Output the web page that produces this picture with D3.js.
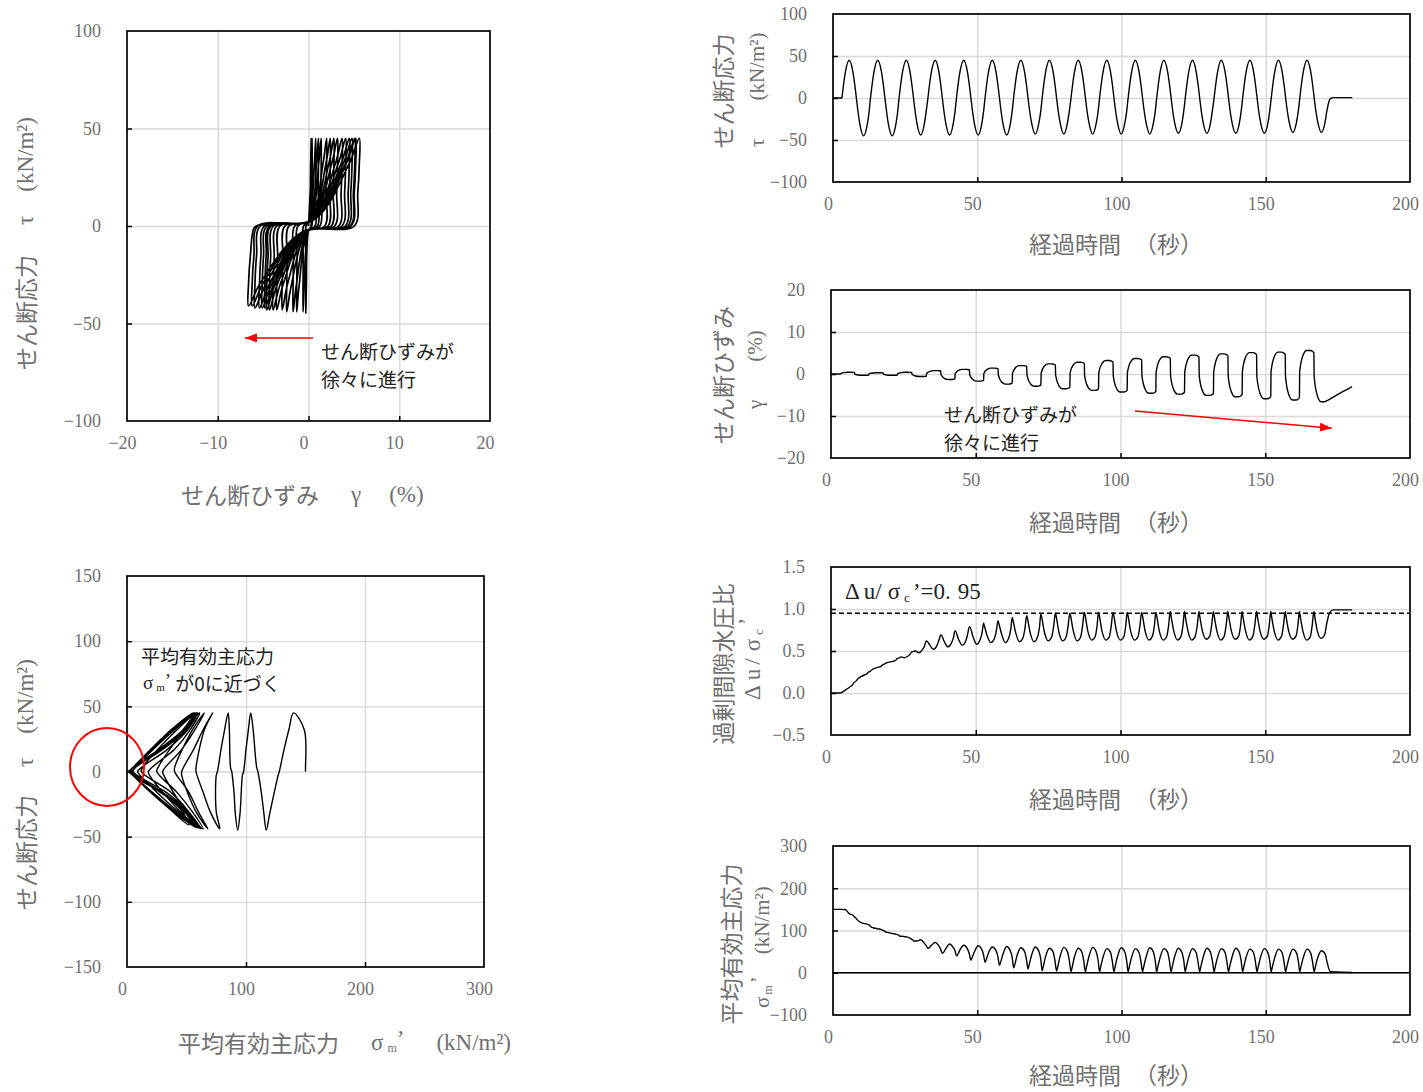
<!DOCTYPE html>
<html lang="ja"><head><meta charset="utf-8">
<script src="https://cdn.jsdelivr.net/npm/d3@7/dist/d3.min.js"></script>
<style>html,body{margin:0;padding:0;background:#fff;}svg{display:block}</style>
</head><body>
<svg id="chart" width="1423" height="1092"></svg>
<script>
// ---------------- DATA ----------------
// start time (s) of each loading cycle (tau up-crossing) and sample offsets inside a cycle
const cycleStart = [3.1, 13.0, 22.9, 32.9, 42.8, 52.7, 62.6, 72.5, 82.5, 92.4, 102.3, 112.2, 122.1, 132.1, 142.0, 151.9, 161.8];
const phaseOffset = [0, 0.1, 1.25, 2.5, 3.75, 4.4, 5, 5.1, 6.25, 7.5, 8.75, 9.4];

// shear stress tau (kN/m2) per cycle at the offsets above
const tauCycles = [
  [0,3,32,45,32,17,0,-3,-32,-45,-32,-17],
  [0,3,32,45,32,17,0,-3,-32,-45,-32,-17],
  [0,3,32,45,32,17,0,-3,-31,-44,-31,-16],
  [0,3,32,45,32,17,0,-3,-31,-44,-31,-16],
  [0,3,32,45,32,17,0,-3,-31,-44,-31,-16],
  [0,3,32,45,32,17,0,-3,-31,-44,-31,-16],
  [0,3,32,45,32,17,0,-3,-30,-43,-30,-16],
  [0,3,32,45,32,17,0,-3,-30,-43,-30,-16],
  [0,3,32,45,32,17,0,-3,-30,-43,-30,-16],
  [0,3,32,45,32,17,0,-3,-30,-43,-30,-16],
  [0,3,32,45,32,17,0,-3,-30,-43,-30,-16],
  [0,3,32,45,32,17,0,-3,-30,-42,-30,-15],
  [0,3,32,45,32,17,0,-3,-30,-42,-30,-15],
  [0,3,32,45,32,17,0,-3,-30,-42,-30,-15],
  [0,3,32,45,32,17,0,-3,-30,-42,-30,-15],
  [0,3,32,45,32,17,0,-3,-29,-41,-29,-15],
  [0,3,32,45,32,17,0,-3,-29,-41,-29,-15]
];
// shear strain gamma (%)
const gammaCycles = [
  [0,0.04,0.32,0.4,0.4,0.39,0.36,-0.03,-0.24,-0.3,-0.3,-0.29],
  [-0.27,0.03,0.24,0.3,0.3,0.29,0.27,-0.03,-0.24,-0.3,-0.3,-0.29],
  [-0.27,0.04,0.32,0.4,0.4,0.39,0.36,-0.06,-0.48,-0.6,-0.6,-0.58],
  [-0.54,0.08,0.64,0.8,0.8,0.78,0.72,-0.13,-1.04,-1.3,-1.3,-1.26],
  [-1.17,0.11,0.88,1.1,1.1,1.07,0.99,-0.17,-1.36,-1.7,-1.7,-1.65],
  [-1.53,0.14,1.12,1.4,1.4,1.36,1.26,-0.24,-1.92,-2.4,-2.4,-2.33],
  [-2.16,0.2,1.6,2.0,2.0,1.94,1.8,-0.29,-2.32,-2.9,-2.9,-2.81],
  [-2.61,0.24,1.92,2.4,2.4,2.33,2.16,-0.35,-2.8,-3.5,-3.5,-3.4],
  [-3.15,0.28,2.24,2.8,2.8,2.72,2.52,-0.39,-3.12,-3.9,-3.9,-3.78],
  [-3.51,0.32,2.56,3.2,3.2,3.1,2.88,-0.43,-3.44,-4.3,-4.3,-4.17],
  [-3.87,0.37,2.96,3.7,3.7,3.59,3.33,-0.46,-3.68,-4.6,-4.6,-4.46],
  [-4.14,0.41,3.28,4.1,4.1,3.98,3.69,-0.48,-3.84,-4.8,-4.8,-4.66],
  [-4.32,0.45,3.6,4.5,4.5,4.37,4.05,-0.51,-4.08,-5.1,-5.1,-4.95],
  [-4.59,0.48,3.84,4.8,4.8,4.66,4.32,-0.54,-4.32,-5.4,-5.4,-5.24],
  [-4.86,0.51,4.08,5.1,5.1,4.95,4.59,-0.59,-4.72,-5.9,-5.9,-5.72],
  [-5.31,0.52,4.16,5.2,5.2,5.04,4.68,-0.62,-4.96,-6.2,-6.2,-6.01],
  [-5.58,0.56,4.48,5.6,5.6,5.43,5.04,-0.66,-5.28,-6.6,-6.6,-6.4]
];
// mean effective principal stress sigma_m' (kN/m2)
const sigmaCycles = [
  [150,150,149,140,136,132,128,127,120,117,115,113],
  [110,109,106,104,102,100,98,97,95,93,91,90],
  [88,87,86,85,82,79,76,75,75,78,70,64],
  [58,58,65,72,64,56,46,46,58,68,60,52],
  [40,40,55,65,57,46,30,31,50,64,55,42],
  [25,26,48,61,53,40,18,19,45,62,52,37],
  [12,13,42,59,51,34,9,11,42,61,51,33],
  [5,7,40,58,50,30,4,6,40,60,50,30],
  [3,5,39,58,49,29,2,5,39,60,49,29],
  [2,5,38,57,49,28,2,5,39,59,49,28],
  [2,5,38,57,48,28,2,5,38,59,49,28],
  [2,5,38,57,49,28,2,5,39,58,48,28],
  [2,5,38,57,48,27,2,5,38,58,48,28],
  [2,5,38,57,49,28,2,5,38,58,48,27],
  [2,5,38,56,48,27,2,5,38,57,47,27],
  [2,5,37,56,48,27,2,5,37,56,47,27],
  [2,5,37,56,47,27,2,5,36,52,45,27]
];
// excess pore water pressure ratio du/sigma_c'
const ruCycles = [
  [0.00,0.00,0.02,0.05,0.08,0.10,0.13,0.13,0.17,0.20,0.22,0.23],
  [0.25,0.25,0.28,0.30,0.31,0.32,0.34,0.34,0.36,0.37,0.38,0.39],
  [0.41,0.41,0.43,0.42,0.44,0.46,0.49,0.49,0.50,0.48,0.52,0.56],
  [0.62,0.62,0.57,0.52,0.57,0.63,0.69,0.69,0.61,0.55,0.60,0.66],
  [0.74,0.74,0.64,0.57,0.62,0.70,0.79,0.79,0.67,0.58,0.64,0.72],
  [0.83,0.82,0.68,0.60,0.65,0.74,0.86,0.85,0.70,0.60,0.66,0.76],
  [0.90,0.89,0.71,0.61,0.66,0.77,0.92,0.91,0.71,0.61,0.67,0.78],
  [0.94,0.93,0.72,0.62,0.67,0.79,0.95,0.94,0.72,0.62,0.67,0.80],
  [0.95,0.94,0.73,0.62,0.67,0.80,0.96,0.95,0.73,0.63,0.67,0.80],
  [0.96,0.95,0.73,0.63,0.67,0.80,0.96,0.95,0.73,0.63,0.67,0.80],
  [0.96,0.95,0.73,0.63,0.67,0.80,0.96,0.95,0.73,0.63,0.68,0.80],
  [0.96,0.95,0.73,0.63,0.67,0.80,0.97,0.95,0.73,0.63,0.68,0.81],
  [0.97,0.95,0.73,0.63,0.68,0.80,0.97,0.95,0.73,0.64,0.68,0.81],
  [0.97,0.95,0.73,0.63,0.68,0.81,0.97,0.95,0.73,0.64,0.68,0.81],
  [0.97,0.95,0.73,0.63,0.68,0.81,0.97,0.95,0.73,0.64,0.68,0.81],
  [0.97,0.95,0.73,0.63,0.68,0.81,0.97,0.95,0.73,0.64,0.68,0.81],
  [0.97,0.95,0.73,0.63,0.67,0.80,0.97,0.95,0.73,0.65,0.70,0.82]
];
// before the first and after the last cycle
const leadTime = [0], leadTau = [0], leadGamma = [0], leadSigma = [150], leadRu = [0];
const tailTime  = [172.3, 173.5, 176, 180];
const tailTau   = [-1, 0.5, 0.5, 0.5];
const tailGamma = [-6.0, -5.5, -4.5, -3.0];
const tailSigma = [3, 2, 1.5, 0.5];
const tailRu    = [0.96, 0.99, 0.99, 0.99];
const ruThreshold = 0.95;

// axis ticks
const timeTicks   = [0, 50, 100, 150, 200];
const tauTicks    = [-100, -50, 0, 50, 100];
const gammaTicksT = [-20, -10, 0, 10, 20];
const ruTicks     = [-0.5, 0, 0.5, 1.0, 1.5];
const sigmaTicksT = [-100, 0, 100, 200, 300];
const gammaTicksA = [-20, -10, 0, 10, 20];
const tauTicksA   = [-100, -50, 0, 50, 100];
const sigmaTicksB = [0, 100, 200, 300];
const tauTicksB   = [-150, -100, -50, 0, 50, 100, 150];

// ---------------- assemble records ----------------
const rows = [];
leadTime.forEach((t,i)=>rows.push({t, tau:leadTau[i], gamma:leadGamma[i], sigma:leadSigma[i], ru:leadRu[i]}));
cycleStart.forEach((t0,k)=>phaseOffset.forEach((o,j)=>rows.push({
  t:t0+o, tau:tauCycles[k][j], gamma:gammaCycles[k][j], sigma:sigmaCycles[k][j], ru:ruCycles[k][j]})));
tailTime.forEach((t,i)=>rows.push({t, tau:tailTau[i], gamma:tailGamma[i], sigma:tailSigma[i], ru:tailRu[i]}));
const loopRows = rows.slice(1);

// ---------------- drawing ----------------
const SERIF = '"Liberation Serif","DejaVu Serif",serif';
const JP = '"Noto Sans CJK JP","Noto Sans CJK SC",sans-serif';
const GRAY = '#707070';
const INK = '#222';
const svg = d3.select('#chart');
svg.append('rect').attr('width',1423).attr('height',1092).attr('fill','#fff');

const defs = svg.append('defs');
defs.append('marker').attr('id','redArrow').attr('markerUnits','userSpaceOnUse')
  .attr('markerWidth',14).attr('markerHeight',10).attr('refX',12).attr('refY',4.5).attr('orient','auto')
  .append('path').attr('d','M0,0 L12,4.5 L0,9 Z').attr('fill','#ff0000');

function panel(o){
  const x = d3.scaleLinear().domain(o.xd).range([o.x0,o.x1]);
  const y = d3.scaleLinear().domain(o.yd).range([o.y1,o.y0]);
  const W = o.x1-o.x0, H = o.y1-o.y0;
  const inner = a => a.slice(1,-1);
  const g = svg.append('g');
  const styleGrid = s => { s.select('.domain').remove(); s.selectAll('line').attr('stroke','#d9d9d9').attr('stroke-width',1.4); };
  const styleTick = s => { s.select('.domain').remove(); s.selectAll('line').attr('stroke','#000').attr('stroke-width',1.5); };
  g.append('g').attr('transform',`translate(0,${o.y1})`)
    .call(d3.axisBottom(x).tickValues(inner(o.xt)).tickSize(-H).tickFormat('')).call(styleGrid);
  g.append('g').attr('transform',`translate(${o.x0},0)`)
    .call(d3.axisLeft(y).tickValues(inner(o.yt)).tickSize(-W).tickFormat('')).call(styleGrid);
  g.append('g').attr('transform',`translate(0,${o.y1})`)
    .call(d3.axisBottom(x).tickValues(inner(o.xt)).tickSize(-5).tickFormat('')).call(styleTick);
  g.append('g').attr('transform',`translate(${o.x0},0)`)
    .call(d3.axisLeft(y).tickValues(inner(o.yt)).tickSize(-5).tickFormat('')).call(styleTick);
  const styleLab = s => { s.select('.domain').remove(); s.selectAll('line').remove();
    s.attr('font-family',SERIF).attr('font-size',18); s.selectAll('text').attr('fill',GRAY); };
  g.append('g').attr('transform',`translate(-5,${o.y1})`)
    .call(d3.axisBottom(x).tickValues(o.xt).tickSize(0).tickPadding(15).tickFormat(o.xf||d3.format('d'))).call(styleLab);
  g.append('g').attr('transform',`translate(${o.x0-26},0)`)
    .call(d3.axisLeft(y).tickValues(o.yt).tickSize(0).tickPadding(0).tickFormat(o.yf||d3.format('d'))).call(styleLab);
  const plot = svg.append('g');
  const border = () => svg.append('rect').attr('x',o.x0).attr('y',o.y0).attr('width',W).attr('height',H)
    .attr('fill','none').attr('stroke','#000').attr('stroke-width',1.7);
  return {x,y,plot,border,o};
}

function addParts(t,parts){
  parts.forEach(p=>{
    const s = t.append('tspan').text(p.s).attr('font-family',p.jp?JP:SERIF);
    if(p.dx) s.attr('dx',p.dx);
    if(p.dy) s.attr('dy',p.dy);
    if(p.fs) s.attr('font-size',p.fs);
  });
  return t;
}
function htext(x,y,parts,fs,fill){
  const t = svg.append('text').attr('x',x).attr('y',y).attr('dominant-baseline','central')
    .attr('font-size',fs).attr('fill',fill||GRAY);
  return addParts(t,parts);
}
function vtext(x,y,parts,fs,anchor,fill){
  const t = svg.append('text').attr('transform',`translate(${x},${y}) rotate(-90)`)
    .attr('dominant-baseline','central').attr('text-anchor',anchor||'start')
    .attr('font-size',fs).attr('fill',fill||GRAY);
  return addParts(t,parts);
}

// ===== Panel A : tau vs gamma =====
const A = panel({x0:127,x1:490,y0:31,y1:421,xd:[-20,20],yd:[-100,100],xt:gammaTicksA,yt:tauTicksA});
A.plot.append('path').datum(loopRows)
  .attr('d',d3.line().x(d=>A.x(d.gamma)).y(d=>A.y(d.tau)).curve(d3.curveCatmullRom.alpha(0.5)))
  .attr('fill','none').attr('stroke','#000').attr('stroke-width',1.7).attr('stroke-linejoin','round');
A.border();
svg.append('line').attr('x1',A.x(0.5)).attr('x2',A.x(-7.0)).attr('y1',A.y(-57.4)).attr('y2',A.y(-57.4))
  .attr('stroke','#ff0000').attr('stroke-width',1.6).attr('marker-end','url(#redArrow)');
htext(321,350,[{s:'せん断ひずみが',jp:1}],19,INK);
htext(321,378,[{s:'徐々に進行',jp:1}],19,INK);
htext(181,494,[{s:'せん断ひずみ',jp:1},{s:'γ',dx:32},{s:'(%)',dx:28}],23);
vtext(25,370,[{s:'せん断応力',jp:1},{s:'τ',dx:30},{s:'(kN/m²)',dx:24}],23);

// ===== Panel B : tau vs sigma_m' =====
const B = panel({x0:127,x1:484,y0:576,y1:967,xd:[0,300],yd:[-150,150],xt:sigmaTicksB,yt:tauTicksB});
B.plot.append('path').datum(loopRows)
  .attr('d',d3.line().x(d=>B.x(d.sigma)).y(d=>B.y(d.tau)).curve(d3.curveCatmullRom.alpha(0.5)))
  .attr('fill','none').attr('stroke','#000').attr('stroke-width',1.4).attr('stroke-linejoin','round');
B.border();
svg.append('ellipse').attr('cx',B.x(-16.8)).attr('cy',B.y(3.5)).attr('rx',37).attr('ry',39)
  .attr('fill','none').attr('stroke','#ff0000').attr('stroke-width',2);
htext(141,655,[{s:'平均有効主応力',jp:1}],19,INK);
htext(143,682,[{s:'σ'},{s:'m',fs:11,dx:3,dy:5},{s:'’',dy:-7},{s:'が0に近づく',jp:1,dx:4,dy:2}],19,INK);
htext(178,1042,[{s:'平均有効主応力',jp:1},{s:'σ',dx:32},{s:'m',fs:12,dx:4,dy:6},{s:'’',dy:-10},{s:'(kN/m²)',dx:32,dy:4}],23);
vtext(25,910,[{s:'せん断応力',jp:1},{s:'τ',dx:28},{s:'(kN/m²)',dx:24}],23);

// ===== Time-history panels =====
function timeLine(P,key){
  P.plot.append('path').datum(rows)
    .attr('d',d3.line().x(d=>P.x(d.t)).y(d=>P.y(d[key])).curve(d3.curveMonotoneX))
    .attr('fill','none').attr('stroke','#000').attr('stroke-width',1.4).attr('stroke-linejoin','round');
}
function timeTitle(y){
  htext(1029,y,[{s:'経過時間',jp:1},{s:'（秒）',jp:1,dx:13}],23);
}

// C1 tau
const C1 = panel({x0:833,x1:1410,y0:14,y1:182,xd:[0,200],yd:[-100,100],xt:timeTicks,yt:tauTicks});
timeLine(C1,'tau'); C1.border(); timeTitle(243);
vtext(722,91,[{s:'せん断応力',jp:1}],23,'middle');
vtext(757,147,[{s:'τ'},{s:'(kN/m²)',dx:38}],21);

// C2 gamma
const C2 = panel({x0:831,x1:1410,y0:290,y1:458,xd:[0,200],yd:[-20,20],xt:timeTicks,yt:gammaTicksT});
timeLine(C2,'gamma'); C2.border(); timeTitle(521);
vtext(722,375,[{s:'せん断ひずみ',jp:1}],23,'middle');
vtext(755,409,[{s:'γ'},{s:'(%)',dx:38}],21);
svg.append('line').attr('x1',C2.x(105)).attr('y1',C2.y(-8.8)).attr('x2',C2.x(173)).attr('y2',C2.y(-12.9))
  .attr('stroke','#ff0000').attr('stroke-width',1.6).attr('marker-end','url(#redArrow)');
htext(944,413,[{s:'せん断ひずみが',jp:1}],19,INK);
htext(944,441,[{s:'徐々に進行',jp:1}],19,INK);

// C3 pore pressure ratio
const C3 = panel({x0:831,x1:1410,y0:567,y1:735,xd:[0,200],yd:[-0.5,1.5],xt:timeTicks,yt:ruTicks,yf:d3.format('.1f')});
C3.plot.append('line').attr('x1',C3.x(0)).attr('x2',C3.x(200)).attr('y1',C3.y(ruThreshold)).attr('y2',C3.y(ruThreshold))
  .attr('stroke','#000').attr('stroke-width',1.4).attr('stroke-dasharray','5,3');
timeLine(C3,'ru'); C3.border(); timeTitle(798);
vtext(722,664,[{s:'過剰間隙水圧比',jp:1}],23,'middle');
vtext(752,700,[{s:'Δ'},{s:'u',dx:5},{s:'/',dx:4},{s:'σ',dx:7},{s:'c',fs:13,dx:4,dy:6},{s:'’',dx:4,dy:-12}],23);
htext(845,591,[{s:'Δ'},{s:'u/',dx:4},{s:'σ',dx:6},{s:'c',fs:13,dx:4,dy:6},{s:'’=0.',dx:3,dy:-6},{s:'95',dx:7}],23,INK);

// C4 mean effective stress
const C4 = panel({x0:833,x1:1410,y0:846,y1:1015,xd:[0,200],yd:[-100,300],xt:timeTicks,yt:sigmaTicksT});
C4.plot.append('line').attr('x1',C4.x(0)).attr('x2',C4.x(200)).attr('y1',C4.y(0)).attr('y2',C4.y(0))
  .attr('stroke','#000').attr('stroke-width',1.5);
timeLine(C4,'sigma'); C4.border(); timeTitle(1074);
vtext(730,944,[{s:'平均有効主応力',jp:1}],23,'middle');
vtext(762,1008,[{s:'σ'},{s:'m',fs:12,dx:2,dy:6},{s:'’',dx:2,dy:-10},{s:'(kN/m²)',dx:22,dy:4}],21);
</script>
</body></html>
